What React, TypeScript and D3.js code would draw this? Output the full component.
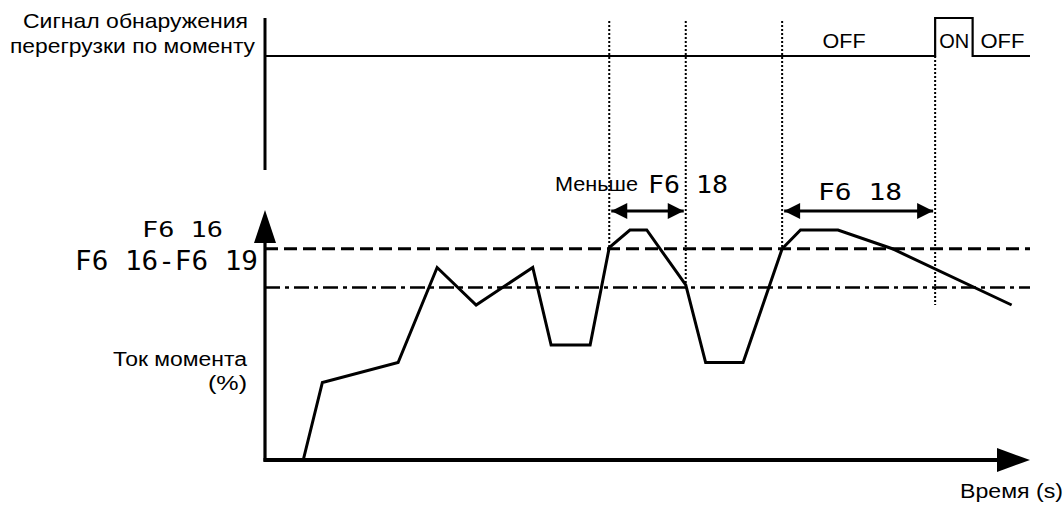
import React from 'react';
import * as d3 from 'd3';

// torque curve, time in % of the window, torque in %
const curveTime = [5, 7.5, 17.4, 22.5, 27.6, 35, 37.4, 42.5, 45, 47.7, 49.9, 55, 57.6, 62.5, 67.6, 70, 74.9, 82, 97.6];
const curveTorque = [0, 31, 39, 77, 62, 77, 46, 46, 85, 92, 92, 70, 39, 39, 84.5, 92, 92, 84.5, 62];

const detectLevel = 84.5; // F6 16
const releaseLevel = 69;  // F6 16-F6 19

// dotted guides
const markerTimes = [45, 55, 67.6, 87.6];
const markerEnds = [85, 70, 84.5, 62];
const markerStartsOnSignal = [false, false, false, true];

// overload detect signal
const signalTime = [0, 87.6, 87.6, 92.5, 92.5, 100];
const signalState = [0, 0, 1, 1, 0, 0];

const signalLabels = [
  { t: 75.7, text: 'OFF', w: 43 },
  { t: 90.1, text: 'ON', w: 30 },
  { t: 96.4, text: 'OFF', w: 44 },
];

const spans = [
  { from: 45, to: 55 },
  { from: 67.6, to: 87.6 },
];

const font = '"Liberation Sans", Arial, sans-serif';
const segFont = '"DejaVu Sans Mono", monospace';

export default function App() {
  const width = 1064;
  const height = 505;

  const x = d3.scaleLinear().domain([0, 100]).range([265, 1030]);
  const y = d3.scaleLinear().domain([0, 100]).range([460, 210]);
  const ys = d3.scaleLinear().domain([0, 1]).range([56, 18]);

  const curve = d3.line<number>()
    .x((d, i) => x(curveTime[i]))
    .y(d => y(d))(curveTorque) || '';

  const signal = d3.line<number>()
    .x((d, i) => x(signalTime[i]))
    .y(d => ys(d))(signalState) || '';

  const arrowY = 211;
  const fit = { lengthAdjust: 'spacingAndGlyphs' as const };

  return (
    <svg width={width} height={height} style={{ position: 'absolute', left: 0, top: 0, background: '#fff' }}>
      <defs>
        <marker id="ah2" viewBox="0 0 10 10" refX="10" refY="5" markerWidth="18" markerHeight="16" orient="auto-start-reverse" markerUnits="userSpaceOnUse">
          <path d="M0,0 L10,5 L0,10 z" fill="#000" />
        </marker>
      </defs>

      {/* signal part */}
      <line x1={x(0)} x2={x(0)} y1={ys(1)} y2={170} stroke="#000" strokeWidth={3} />
      <path d={signal} fill="none" stroke="#000" strokeWidth={2.2} />
      {signalLabels.map((d, i) => (
        <text key={i} x={x(d.t)} y={48} textAnchor="middle" fontFamily={font} fontSize={21} textLength={d.w} {...fit}>{d.text}</text>
      ))}
      <text x={23} y={28} fontFamily={font} fontSize={21} textLength={225} {...fit}>Сигнал обнаружения</text>
      <text x={10} y={53} fontFamily={font} fontSize={21} textLength={245} {...fit}>перегрузки по моменту</text>

      {/* threshold lines */}
      <line x1={x(0)} x2={x(100)} y1={y(detectLevel)} y2={y(detectLevel)} stroke="#000" strokeWidth={2.8} strokeDasharray="13 6" />
      <line x1={x(0)} x2={x(100)} y1={y(releaseLevel)} y2={y(releaseLevel)} stroke="#000" strokeWidth={2.5} strokeDasharray="15 5 4 5" />

      {/* dotted guides */}
      {markerTimes.map((t, i) => (
        <line key={i} x1={x(t)} x2={x(t)} y1={markerStartsOnSignal[i] ? ys(0) : 21} y2={y(markerEnds[i])}
          stroke="#000" strokeWidth={2} strokeDasharray="2 2" />
      ))}

      {/* span arrows */}
      {spans.map((s, i) => (
        <line key={i} x1={x(s.from) + 2} x2={x(s.to) - 2} y1={arrowY} y2={arrowY} stroke="#000" strokeWidth={2.8}
          markerStart="url(#ah2)" markerEnd="url(#ah2)" />
      ))}
      <text x={555} y={191} fontFamily={font} fontSize={21} textLength={83} {...fit}>Меньше</text>
      <text x={648} y={193} fontFamily={segFont} fontSize={24} textLength={80} {...fit}>F6 18</text>
      <text x={818} y={200} fontFamily={segFont} fontSize={23} textLength={84} {...fit}>F6 18</text>

      {/* axes */}
      <line x1={x(0)} x2={x(0)} y1={y(0) + 1.5} y2={y(100) + 30} stroke="#000" strokeWidth={3.2} />
      <path d={`M${x(0) - 11},${y(100) + 33} L${x(0)},${y(100)} L${x(0) + 11},${y(100) + 33} Z`} fill="#000" />
      <line x1={x(0) - 1.5} x2={x(100) - 30} y1={y(0)} y2={y(0)} stroke="#000" strokeWidth={3.8} />
      <path d={`M${x(100) - 33},${y(0) - 12} L${x(100)},${y(0)} L${x(100) - 33},${y(0) + 12} Z`} fill="#000" />

      {/* torque curve */}
      <path d={curve} fill="none" stroke="#000" strokeWidth={3} strokeLinejoin="miter" />

      {/* labels */}
      <text x={142} y={237} fontFamily={segFont} fontSize={21} textLength={81} {...fit}>F6 16</text>
      <text x={75} y={270} fontFamily={segFont} fontSize={26} textLength={183} {...fit}>F6 16-F6 19</text>
      <text x={113} y={366} fontFamily={font} fontSize={20} textLength={134} {...fit}>Ток момента</text>
      <text x={208} y={390} fontFamily={font} fontSize={20} textLength={39} {...fit}>(%)</text>
      <text x={960} y={498} fontFamily={font} fontSize={20} textLength={103} {...fit}>Время (s)</text>
    </svg>
  );
}
